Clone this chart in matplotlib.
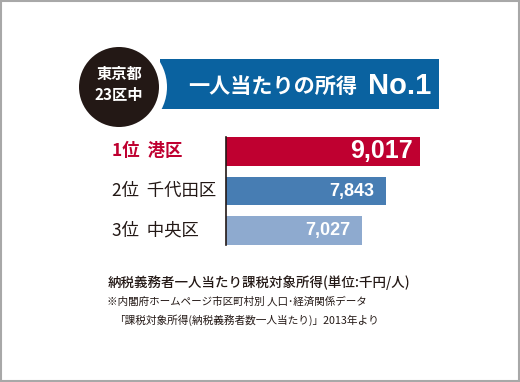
import matplotlib.pyplot as plt
from matplotlib.patches import Circle, Rectangle

plt.rcParams['font.family'] = ['Noto Sans CJK JP', 'DejaVu Sans']

# データ
ranks = ['1位  港区', '2位  千代田区', '3位  中央区']
incomes = [9017, 7843, 7027]
bar_colors = ['#bf0030', '#477db3', '#8eaacf']
label_colors = ['#bf0030', '#231815', '#231815']
value_sizes = [18, 13, 13]

W, H = 520, 382
fig = plt.figure(figsize=(W / 100, H / 100), dpi=100)

# 背景・ヘッダー用（ピクセル座標）
bg = fig.add_axes([0, 0, 1, 1])
bg.set_xlim(0, W)
bg.set_ylim(H, 0)
bg.axis('off')
bg.add_patch(Rectangle((0.5, 0.5), W - 2, H - 2, fill=False, ec='#a8a8a8', lw=1.5))
bg.add_patch(Rectangle((160, 59), 279, 50, color='#0a62a0', lw=0))
bg.add_patch(Circle((119, 87), 48, color='white', lw=0))
bg.add_patch(Circle((119, 87), 40, color='#231815', lw=0))
bg.text(119, 74, '東京都', color='white', fontsize=11, fontweight='bold', ha='center', va='center')
bg.text(119, 95, '23区中', color='white', fontsize=11, fontweight='bold', ha='center', va='center')
bg.text(188, 86, '一人当たりの所得', color='white', fontsize=15.2, fontweight='bold', ha='left', va='center')
bg.text(368, 86, 'No.1', color='white', fontsize=21, fontweight='bold', ha='left', va='center',
        family=['Liberation Sans', 'DejaVu Sans'])

# 注記
bg.text(108, 283, '納税義務者一人当たり課税対象所得(単位:千円/人)', color='#231815', fontsize=9.7,
        fontweight='medium', ha='left', va='center')
bg.text(107, 302, '※内閣府ホームページ市区町村別 人口･経済関係データ', color='#231815', fontsize=7.6,
        ha='left', va='center')
bg.text(114, 320, '「課税対象所得(納税義務者数一人当たり)」2013年より', color='#231815', fontsize=7.7,
        ha='left', va='center')

# 棒グラフ
ax = fig.add_axes([226 / W, 1 - 245 / H, (440 - 226) / W, (245 - 137) / H])
y = list(range(len(ranks)))
ax.barh(y, incomes, height=0.72, color=bar_colors, left=0)
ax.set_xlim(2412, 9698)
ax.set_ylim(2.36, -0.36)
for s in ['top', 'right', 'bottom']:
    ax.spines[s].set_visible(False)
ax.spines['left'].set_color('#231815')
ax.spines['left'].set_linewidth(1.2)
ax.set_xticks([])
ax.set_yticks([])
ax.patch.set_alpha(0)

offsets = [5, 8, 8]
for i, v in enumerate(incomes):
    ax.annotate(f'{v:,}', (v, i), xytext=(-offsets[i], 0), textcoords='offset points',
                ha='right', va='center', color='white', fontsize=value_sizes[i], fontweight='bold',
                family=['Liberation Sans', 'DejaVu Sans'])
    ax.annotate(ranks[i], (0, i), xycoords=('axes fraction', 'data'), xytext=(-114 * 0.72, 0),
                textcoords='offset points', ha='left', va='center', color=label_colors[i],
                fontsize=12.5, fontweight='bold' if i == 0 else 'normal')

fig.savefig('out.png', dpi=100)
